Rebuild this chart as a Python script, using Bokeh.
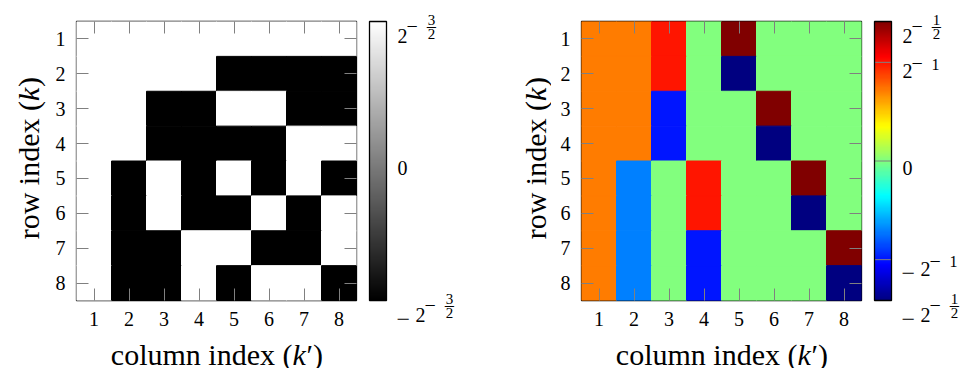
import numpy as np
from bokeh.plotting import figure
from bokeh.models import (ColumnDataSource, LinearColorMapper, Range1d, FixedTicker,
                          LinearAxis)
from bokeh.core.properties import value
from bokeh.layouts import row, column
from bokeh.embed import file_html
from bokeh.resources import INLINE

# ---------------- data ----------------
row_index = [1, 2, 3, 4, 5, 6, 7, 8]
col_index = [1, 2, 3, 4, 5, 6, 7, 8]

walsh_scale = 2 ** -1.5
walsh_signs = [
    [1, 1, 1, 1, 1, 1, 1, 1],
    [1, 1, 1, 1, -1, -1, -1, -1],
    [1, 1, -1, -1, 1, 1, -1, -1],
    [1, 1, -1, -1, -1, -1, 1, 1],
    [1, -1, 1, -1, 1, -1, 1, -1],
    [1, -1, 1, -1, -1, 1, -1, 1],
    [1, -1, -1, 1, 1, -1, -1, 1],
    [1, -1, -1, 1, -1, 1, 1, -1],
]

a = 2 ** -1.5
b = 2 ** -1
c = 2 ** -0.5
haar_values = [
    [a, a, b, 0, c, 0, 0, 0],
    [a, a, b, 0, -c, 0, 0, 0],
    [a, a, -b, 0, 0, c, 0, 0],
    [a, a, -b, 0, 0, -c, 0, 0],
    [a, -a, 0, b, 0, 0, c, 0],
    [a, -a, 0, b, 0, 0, -c, 0],
    [a, -a, 0, -b, 0, 0, 0, c],
    [a, -a, 0, -b, 0, 0, 0, -c],
]

# colorbar ticks: (value, sign, exponent)
left_cbar_labels = [(a, "+", "3/2"), (0, "0", None), (-a, "-", "3/2")]
right_cbar_labels = [(c, "+", "1/2"), (b, "+", "1"), (0, "0", None),
                     (-b, "-", "1"), (-c, "-", "1/2")]

x_label_parts = ["column index (", "k", "\u2032)"]
y_label_parts = ["row index (", "k", ")"]

# ---------------- styles / layout ----------------
FONT = "Liberation Serif"
TICK_GRAY = "#808080"
FRAME_W, FRAME_H = 280, 279
TOP = 21
TOTAL_H = 368
HEAT_L, HEAT_R, HEAT_B = 30, 5, 33
XLAB_OVERLAP = 14
XLAB_H = TOTAL_H - TOP - FRAME_H - HEAT_B + XLAB_OVERLAP
CB_X0, CB_W = 8, 17
LABEL_SIZE = 30


def gray_palette():
    return ["#%02x%02x%02x" % (i, i, i) for i in range(256)]


def jet_palette():
    stops = [(0.0, (0, 0, 128)), (1 / 8, (0, 0, 255)), (3 / 8, (0, 255, 255)),
             (5 / 8, (255, 255, 0)), (7 / 8, (255, 0, 0)), (1.0, (128, 0, 0))]
    pal = []
    for i in range(256):
        t = i / 255
        for (t0, c0), (t1, c1) in zip(stops[:-1], stops[1:]):
            if t0 <= t <= t1:
                f = (t - t0) / (t1 - t0)
                col = [round(c0[j] + f * (c1[j] - c0[j])) for j in range(3)]
                break
        pal.append("#%02x%02x%02x" % tuple(col))
    return pal


def txt(p, x, y, text, size, italic=False, align="left", angle=0):
    p.text(x=[x], y=[y], text=[text], angle=angle,
           text_font=value(FONT), text_font_size=value(f"{size}px"),
           text_font_style=value("italic" if italic else "normal"),
           text_align=value(align), text_baseline=value("alphabetic"),
           text_color="black")


def blank_fig(w, h, xr, yr, left=0, right=0, **kw):
    p = figure(frame_width=w, frame_height=h, x_range=xr, y_range=yr,
               min_border=0, min_border_left=left, min_border_right=right,
               x_axis_type=None, y_axis_type=None,
               toolbar_location=None, output_backend="svg", **kw)
    p.grid.visible = False
    p.outline_line_color = None
    return p


def heatmap(matrix, mapper):
    xs, ys, vs = [], [], []
    for i, r in enumerate(row_index):
        for j, cc in enumerate(col_index):
            xs.append(cc)
            ys.append(r)
            vs.append(matrix[i][j])
    src = ColumnDataSource(dict(x=xs, y=ys, v=vs))
    p = figure(frame_width=FRAME_W, frame_height=FRAME_H,
               x_range=Range1d(0.5, 8.5), y_range=Range1d(8.5, 0.5),
               toolbar_location=None, output_backend="svg",
               min_border_left=HEAT_L, min_border_right=HEAT_R,
               min_border_top=TOP, min_border_bottom=HEAT_B)
    p.rect(x="x", y="y", width=1, height=1, source=src,
           fill_color={"field": "v", "transform": mapper},
           line_color={"field": "v", "transform": mapper}, line_width=1)
    p.grid.visible = False
    p.outline_line_color = "black"
    p.outline_line_width = 1.3
    for ax in (p.xaxis[0], p.yaxis[0]):
        ax.ticker = FixedTicker(ticks=col_index)
        ax.major_tick_in = 12
        ax.major_tick_out = 0
        ax.minor_tick_line_color = None
        ax.axis_line_color = None
        ax.major_tick_line_color = TICK_GRAY
        ax.major_label_text_font = FONT
        ax.major_label_text_font_size = "20px"
        ax.major_label_text_color = "black"
    p.xaxis[0].major_label_standoff = 11
    p.yaxis[0].major_label_standoff = 11
    for loc in ("above", "right"):
        ax = LinearAxis(ticker=FixedTicker(ticks=col_index),
                        major_tick_in=12, major_tick_out=0,
                        minor_tick_line_color=None, axis_line_color=None,
                        major_tick_line_color=TICK_GRAY,
                        major_label_text_font_size="0px",
                        major_label_standoff=0,
                        major_label_overrides={t: "" for t in col_index})
        p.add_layout(ax, loc)
    return p


def x_label_fig():
    # same horizontal borders as the heatmap so that the frames line up;
    # overlaps the tick-label strip above it (transparent background)
    p = blank_fig(FRAME_W, XLAB_H, Range1d(0, FRAME_W), Range1d(0, XLAB_H),
                  left=HEAT_L, right=HEAT_R, margin=(-XLAB_OVERLAP, 0, 0, 0))
    p.background_fill_color = None
    p.border_fill_color = None
    cx = FRAME_W / 2
    base = TOTAL_H - 354
    jx = cx + 76
    txt(p, jx, base, x_label_parts[0], LABEL_SIZE, align="right")
    txt(p, jx, base, x_label_parts[1], LABEL_SIZE, italic=True)
    txt(p, jx + 14, base, x_label_parts[2], LABEL_SIZE)
    return p


def y_label_fig(w, baseline_x):
    p = blank_fig(w, TOTAL_H, Range1d(0, w), Range1d(0, TOTAL_H))
    cy = TOTAL_H - (TOP + FRAME_H / 2)
    jy = cy + 60
    ang = np.pi / 2
    txt(p, baseline_x, jy, y_label_parts[0], LABEL_SIZE, align="right", angle=ang)
    txt(p, baseline_x, jy, y_label_parts[1], LABEL_SIZE, italic=True, angle=ang)
    txt(p, baseline_x, jy + 14, y_label_parts[2], LABEL_SIZE, angle=ang)
    return p


def colorbar_fig(vmax, mapper, ticks_spec, w):
    k = 2 * vmax / FRAME_H  # value per pixel
    yr = Range1d(-vmax - (TOTAL_H - TOP - FRAME_H) * k, vmax + TOP * k)
    p = blank_fig(w, TOTAL_H, Range1d(0, w), yr)
    grad = np.linspace(-vmax, vmax, 256).reshape(256, 1)
    p.image(image=[grad], x=CB_X0, y=-vmax, dw=CB_W, dh=2 * vmax, color_mapper=mapper)
    tick_vals = [t[0] for t in ticks_spec]
    p.segment(x0=[CB_X0] * len(tick_vals), x1=[CB_X0 + CB_W] * len(tick_vals),
              y0=tick_vals, y1=tick_vals, line_color=TICK_GRAY, line_width=1)
    p.quad(left=[CB_X0], right=[CB_X0 + CB_W], bottom=[-vmax], top=[vmax],
           fill_color=None, line_color="black", line_width=1.3)
    R = CB_X0 + CB_W

    def put(dx, dy, text, size, align="left"):
        txt(p, R + dx, t_val - dy * k, text, size, align=align)

    for t_val, sign, exp in ticks_spec:
        if exp is None:
            put(11, 7, "0", 20)
            continue
        s = 18 if sign == "-" else 0
        if "/" in exp:
            B = 14
            if sign == "-":
                put(10, B + 5, "\u2212", 24)
            put(11 + s, B, "2", 20)
            put(20 + s, B - 10, "\u2212", 20)
            num, den = exp.split("/")
            put(45 + s, B - 16, num, 15, align="center")
            put(45 + s, B - 9, "\u2212", 20, align="center")
            put(45 + s, B - 2, den, 15, align="center")
        else:
            B = 9
            if sign == "-":
                put(10, B + 5, "\u2212", 24)
            put(11 + s, B, "2", 20)
            put(20 + s, B - 8, "\u2212", 20)
            put(40 + s, B - 7, exp, 16)
    return p


gray_mapper = LinearColorMapper(palette=gray_palette(), low=-walsh_scale, high=walsh_scale)
jet_mapper = LinearColorMapper(palette=jet_palette(), low=-c, high=c)

walsh_values = [[s * walsh_scale for s in r] for r in walsh_signs]

ylab1 = y_label_fig(46, 28)
heat1 = heatmap(walsh_values, gray_mapper)
xlab1 = x_label_fig()
cb1 = colorbar_fig(walsh_scale, gray_mapper, left_cbar_labels, 105)

ylab2 = y_label_fig(85, 69)
heat2 = heatmap(haar_values, jet_mapper)
xlab2 = x_label_fig()
cb2 = colorbar_fig(c, jet_mapper, right_cbar_labels, 100)

layout = row(ylab1, column(heat1, xlab1), cb1, ylab2, column(heat2, xlab2), cb2)
open("out.html", "w").write(file_html(layout, INLINE))
